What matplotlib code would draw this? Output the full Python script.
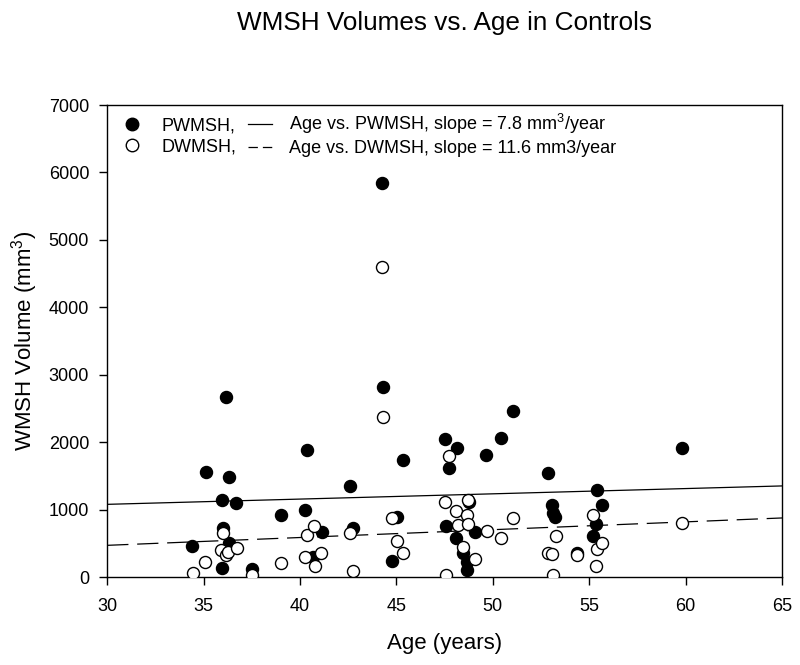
import matplotlib
matplotlib.use('Agg')
import matplotlib.pyplot as plt
from matplotlib.lines import Line2D

# Periventricular WMSH (filled circles)
p_age = [34.42, 35.10, 35.94, 35.95, 36.03, 36.17, 36.34, 36.34, 36.69, 37.53,
         39.00, 40.26, 40.35, 40.70, 41.13, 42.60, 42.77, 44.27, 44.32, 44.76,
         45.02, 45.32, 47.50, 47.57, 47.75, 48.09, 48.16, 48.47, 48.65, 48.65,
         48.78, 49.07, 49.65, 50.40, 51.06, 52.88, 53.05, 53.13, 53.22, 54.35,
         55.18, 55.35, 55.42, 55.64, 59.82]
p_vol = [460, 1562, 1142, 129, 722, 2675, 1488, 509, 1103, 114,
         920, 994, 1884, 301, 672, 1350, 722, 5841, 2814, 237,
         895, 1736, 2047, 761, 1612, 583, 1909, 351, 227, 104,
         1117, 672, 1810, 2058, 2468, 1548, 1068, 945, 895, 361,
         613, 786, 1291, 1068, 1919]

# Deep WMSH (open circles)
d_age = [34.44, 35.08, 35.90, 36.03, 36.17, 36.24, 36.72, 37.53, 39.00, 40.26,
         40.35, 40.75, 40.78, 41.10, 42.60, 42.77, 44.27, 44.32, 44.76, 45.02,
         45.32, 47.52, 47.57, 47.75, 48.09, 48.20, 48.47, 48.65, 48.73, 48.73,
         49.07, 49.68, 50.40, 51.06, 52.88, 53.05, 53.14, 53.27, 54.35, 55.18,
         55.35, 55.42, 55.64, 59.82]
d_vol = [55, 227, 400, 648, 326, 375, 435, 30, 212, 301,
         623, 761, 168, 351, 657, 93, 4604, 2378, 880, 534,
         361, 1117, 30, 1800, 984, 772, 450, 920, 1142, 786,
         263, 682, 574, 871, 351, 341, 30, 608, 326, 920,
         168, 411, 500, 797]

# regression lines (value at age 30 and slope per year)
p_start, p_slope = 1078, 7.8
d_start, d_slope = 470, 11.6
fit_age = [30, 65]

plt.rcParams['font.family'] = ['Liberation Sans', 'DejaVu Sans']
plt.rcParams['mathtext.fontset'] = 'custom'
plt.rcParams['mathtext.rm'] = 'Liberation Sans'
plt.rcParams['mathtext.it'] = 'Liberation Sans:italic'

fig = plt.figure(figsize=(8, 6.65), dpi=100)
ax = fig.add_axes([0.134, 0.1323, 0.8435, 0.7097])

p_fit = [p_start + p_slope * (a - 30) for a in fit_age]
d_fit = [d_start + d_slope * (a - 30) for a in fit_age]
ax.plot(fit_age, p_fit, color='black', lw=0.9, zorder=2)
ax.plot(fit_age, d_fit, color='black', lw=0.9, dashes=(17, 7), zorder=2)

ax.scatter(p_age, p_vol, s=75, c='black', edgecolors='black', linewidths=1, zorder=3)
ax.scatter(d_age, d_vol, s=75, c='white', edgecolors='black', linewidths=1, zorder=4)

ax.set_xlim(30, 65)
ax.set_ylim(0, 7000)
ax.set_xticks(range(30, 66, 5))
ax.set_yticks(range(0, 7001, 1000))
ax.tick_params(direction='out', length=6, width=1, labelsize=13)
ax.tick_params(axis='x', pad=9)
ax.tick_params(axis='y', pad=7)
for s in ax.spines.values():
    s.set_linewidth(1)

ax.set_xlabel('Age (years)', fontsize=16, labelpad=13)
ax.set_ylabel('WMSH Volume (mm$^3$)', fontsize=16, labelpad=6)
fig.suptitle('WMSH Volumes vs. Age in Controls', fontsize=18.8, x=0.556, y=0.984)

handles = [
    Line2D([], [], ls='none', marker='o', ms=9, mfc='black', mec='black'),
    Line2D([], [], ls='none', marker='o', ms=9, mfc='white', mec='black'),
    Line2D([], [], color='black', lw=0.9),
    Line2D([], [], color='black', lw=0.9, dashes=(7.5, 4)),
]
labels = ['PWMSH,', 'DWMSH,',
          'Age vs. PWMSH, slope = 7.8 mm$^3$/year',
          'Age vs. DWMSH, slope = 11.6 mm3/year']
ax.legend(handles, labels, ncol=2, loc='upper left', bbox_to_anchor=(0.008, 1.0),
          frameon=False, fontsize=13, handlelength=1.35, handletextpad=0.95,
          columnspacing=0.65, labelspacing=0.2, borderaxespad=0.1, borderpad=0.3)

plt.savefig('out.png', dpi=100)
